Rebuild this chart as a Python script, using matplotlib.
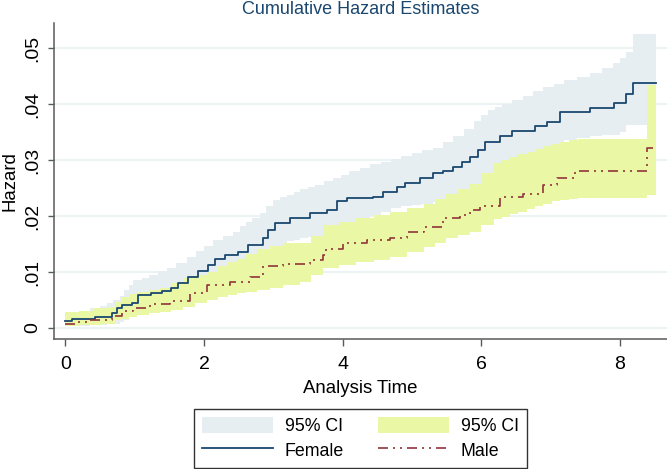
import matplotlib
matplotlib.use("Agg")
import matplotlib.pyplot as plt
from matplotlib.patches import Patch
from matplotlib.lines import Line2D

# ---------------- data ----------------
female_t = [0, 0.10, 0.43, 0.67, 0.74, 0.81, 0.96, 1.05, 1.24, 1.39, 1.53, 1.63, 1.77,
            1.92, 2.06, 2.16, 2.30, 2.49, 2.64, 2.85, 2.92, 3.03, 3.24, 3.53, 3.77, 3.92,
            4.06, 4.44, 4.59, 4.78, 4.90, 5.12, 5.31, 5.45, 5.60, 5.72, 5.84, 5.95, 6.06,
            6.27, 6.44, 6.78, 6.95, 7.14, 7.57, 7.92, 8.10, 8.20, 8.53]
female_h = [0.0012, 0.0016, 0.0019, 0.0026, 0.0035, 0.0041, 0.0044, 0.0059, 0.0062, 0.0067,
            0.0071, 0.0080, 0.0092, 0.0101, 0.0113, 0.0124, 0.0130, 0.0136, 0.0148, 0.0161,
            0.0175, 0.0188, 0.0196, 0.0205, 0.0211, 0.0227, 0.0233, 0.0234, 0.0243, 0.0252,
            0.0259, 0.0267, 0.0276, 0.0281, 0.0288, 0.0297, 0.0306, 0.0318, 0.0333, 0.0343,
            0.0351, 0.0360, 0.0368, 0.0385, 0.0392, 0.0401, 0.0417, 0.0438, 0.0438]

female_ci_t = [0, 0.2, 0.35, 0.5, 0.6, 0.69, 0.78, 0.85, 0.92, 0.98, 1.1, 1.2, 1.33, 1.46,
               1.6, 1.75, 1.88, 2.0, 2.13, 2.27, 2.42, 2.52, 2.6, 2.7, 2.81, 2.9, 3.0, 3.1,
               3.2, 3.3, 3.39, 3.5, 3.6, 3.73, 3.86, 3.98, 4.1, 4.25, 4.4, 4.55, 4.7, 4.85,
               5.0, 5.15, 5.3, 5.45, 5.6, 5.75, 5.9, 6.0, 6.1, 6.2, 6.3, 6.45, 6.6, 6.75,
               6.9, 7.05, 7.2, 7.38, 7.57, 7.75, 7.9, 8.0, 8.1, 8.2, 8.53]
female_ci_hi = [0.0028, 0.0030, 0.0036, 0.0040, 0.0045, 0.0050, 0.0058, 0.0068, 0.0077, 0.0086,
                0.0090, 0.0095, 0.0101, 0.0107, 0.0116, 0.0127, 0.0138, 0.0147, 0.0157, 0.0164,
                0.0171, 0.0182, 0.0190, 0.0197, 0.0205, 0.0217, 0.0229, 0.0234, 0.0238, 0.0243,
                0.0248, 0.0252, 0.0256, 0.0262, 0.0268, 0.0274, 0.0280, 0.0286, 0.0292, 0.0297,
                0.0302, 0.0307, 0.0312, 0.0317, 0.0322, 0.0332, 0.0342, 0.0356, 0.0370, 0.0380,
                0.0390, 0.0395, 0.0400, 0.0408, 0.0415, 0.0423, 0.0430, 0.0436, 0.0442, 0.0448,
                0.0455, 0.0464, 0.0473, 0.0483, 0.0493, 0.0525, 0.0525]
female_ci_lo = [0.0003, 0.0004, 0.0005, 0.0006, 0.0007, 0.0008, 0.0011, 0.0015, 0.0020, 0.0025,
                0.0030, 0.0035, 0.0038, 0.0040, 0.0047, 0.0055, 0.0062, 0.0068, 0.0075, 0.0083,
                0.0090, 0.0095, 0.0100, 0.0108, 0.0115, 0.0122, 0.0130, 0.0143, 0.0155, 0.0158,
                0.0160, 0.0162, 0.0163, 0.0169, 0.0175, 0.0183, 0.0190, 0.0195, 0.0200, 0.0208,
                0.0215, 0.0218, 0.0220, 0.0222, 0.0225, 0.0230, 0.0235, 0.0245, 0.0255, 0.0265,
                0.0275, 0.0284, 0.0292, 0.0295, 0.0297, 0.0303, 0.0310, 0.0322, 0.0335, 0.0339,
                0.0342, 0.0344, 0.0345, 0.0350, 0.0363, 0.0363, 0.0363]

male_t = [0, 0.13, 0.35, 0.67, 0.81, 0.98, 1.22, 1.51, 1.80, 2.04, 2.38, 2.66, 2.85, 3.14,
          3.53, 3.72, 3.76, 4.00, 4.35, 4.69, 4.93, 5.17, 5.45, 5.70, 5.84, 5.99, 6.27, 6.61,
          6.90, 7.09, 7.36, 8.39, 8.52]
male_h = [0.0008, 0.0011, 0.0014, 0.0021, 0.0031, 0.0035, 0.0043, 0.0048, 0.0063, 0.0077,
          0.0083, 0.0092, 0.0110, 0.0114, 0.0121, 0.0130, 0.0142, 0.0151, 0.0157, 0.0160,
          0.0172, 0.0181, 0.0196, 0.0202, 0.0211, 0.0217, 0.0234, 0.0240, 0.0255, 0.0267,
          0.0280, 0.0321, 0.0321]

male_ci_t = [0, 0.2, 0.4, 0.52, 0.64, 0.72, 0.82, 0.92, 1.03, 1.2, 1.36, 1.53, 1.7, 1.87,
             2.04, 2.2, 2.35, 2.47, 2.6, 2.76, 2.95, 3.14, 3.39, 3.55, 3.72, 3.95, 4.2, 4.45,
             4.69, 4.93, 5.17, 5.33, 5.5, 5.67, 5.84, 6.0, 6.18, 6.3, 6.42, 6.54, 6.66, 6.78,
             6.9, 7.02, 7.14, 7.27, 7.4, 8.39, 8.52]
male_ci_hi = [0.0029, 0.0031, 0.0035, 0.0036, 0.0038, 0.0047, 0.0055, 0.0060, 0.0065, 0.0068,
              0.0071, 0.0080, 0.0089, 0.0094, 0.0100, 0.0110, 0.0118, 0.0124, 0.0133, 0.0142,
              0.0147, 0.0151, 0.0152, 0.0165, 0.0184, 0.0190, 0.0196, 0.0202, 0.0208, 0.0214,
              0.0222, 0.0231, 0.0240, 0.0249, 0.0258, 0.0277, 0.0295, 0.0300, 0.0305, 0.0310,
              0.0315, 0.0320, 0.0325, 0.0329, 0.0333, 0.0336, 0.0338, 0.0434, 0.0434]
male_ci_lo = [0.0004, 0.0005, 0.0006, 0.0007, 0.0008, 0.0014, 0.0017, 0.0020, 0.0023, 0.0026,
              0.0029, 0.0033, 0.0038, 0.0044, 0.0050, 0.0055, 0.0059, 0.0062, 0.0065, 0.0068,
              0.0072, 0.0077, 0.0083, 0.0095, 0.0107, 0.0112, 0.0118, 0.0122, 0.0126, 0.0135,
              0.0145, 0.0152, 0.0160, 0.0166, 0.0172, 0.0184, 0.0195, 0.0199, 0.0203, 0.0208,
              0.0213, 0.0218, 0.0222, 0.0226, 0.0229, 0.0231, 0.0232, 0.0238, 0.0238]

x_ticks = [0, 2, 4, 6, 8]
y_ticks = [0, 0.01, 0.02, 0.03, 0.04, 0.05]
y_ticklabels = ["0", ".01", ".02", ".03", ".04", ".05"]

title = "Cumulative Hazard Estimates"
xlabel = "Analysis Time"
ylabel = "Hazard"
legend_labels = ["95% CI", "Female", "95% CI", "Male"]

# ---------------- styling ----------------
plt.rcParams["font.family"] = ["Liberation Sans", "DejaVu Sans"]
NAVY = "#1a476f"
MAROON = "#90353b"
CI_F = "#e6eef1"
CI_M = "#eaf8a6"
GRID = "#e6f0f2"
AXC = "#5a5a5a"

W, H = 667, 469
fig = plt.figure(figsize=(W / 100, H / 100), dpi=100)
ax = fig.add_axes([54 / W, 1 - 339 / H, (W - 54) / W, (339 - 22.7) / H])

ax.fill_between(female_ci_t, female_ci_lo, female_ci_hi, step="post",
                color=CI_F, lw=0, zorder=1)
ax.fill_between(male_ci_t, male_ci_lo, male_ci_hi, step="post",
                color=CI_M, lw=0, zorder=2)
ax.plot(female_t, female_h, drawstyle="steps-post", color=NAVY, lw=1.3, zorder=4)
male_dash = (0, (6, 3, 1.2, 3, 1.2, 3))
ax.plot(male_t, male_h, drawstyle="steps-post", color=MAROON, lw=1.2,
        linestyle=male_dash, zorder=4)

ax.set_xlim(-0.166, 8.685)
ax.set_ylim(-0.00196, 0.05452)
ax.set_xticks(x_ticks)
ax.set_xticklabels([str(v) for v in x_ticks])
ax.set_yticks(y_ticks)
ax.set_yticklabels(y_ticklabels, rotation=90, va="center")
ax.yaxis.grid(True, color=GRID, lw=1.1, zorder=0)
ax.set_axisbelow(True)

for s in ["top", "right"]:
    ax.spines[s].set_visible(False)
for s in ["left", "bottom"]:
    ax.spines[s].set_color(AXC)
    ax.spines[s].set_linewidth(1.1)
ax.tick_params(axis="x", direction="out", length=5, width=1.0, color=AXC,
               labelsize=14, labelcolor="black", pad=7)
ax.tick_params(axis="y", direction="out", length=4.5, width=1.0, color=AXC,
               labelsize=14, labelcolor="black", pad=4.5)

ax.set_title(title, color=NAVY, fontsize=13, pad=6)
ax.set_xlabel(xlabel, fontsize=13.4, labelpad=5)
ax.set_ylabel(ylabel, fontsize=13.4, labelpad=4)

handles = [Patch(facecolor=CI_F, edgecolor="none"),
           Line2D([], [], color=NAVY, lw=1.3),
           Patch(facecolor=CI_M, edgecolor="none"),
           Line2D([], [], color=MAROON, lw=1.2, linestyle=male_dash)]
leg = fig.legend(handles, legend_labels, ncol=2, loc="lower center",
                 bbox_to_anchor=(360.5 / W, 1.5 / H), borderaxespad=0.0,
                 frameon=True, fancybox=False,
                 fontsize=12.8, handlelength=4.0, handleheight=1.0, handletextpad=0.65,
                 columnspacing=1.9, labelspacing=0.35, borderpad=0.45)
leg.get_frame().set_edgecolor("black")
leg.get_frame().set_linewidth(1.0)

fig.savefig("out.png", dpi=100)
